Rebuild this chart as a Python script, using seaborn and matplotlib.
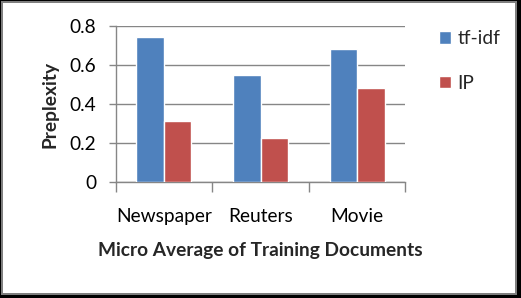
import matplotlib
matplotlib.use("Agg")
import matplotlib.pyplot as plt
import seaborn as sns
import pandas as pd
from matplotlib.patches import Rectangle

categories = ["Newspaper", "Reuters", "Movie"]
series_names = ["tf-idf", "IP"]
tfidf_values = [0.745, 0.55, 0.683]
ip_values = [0.313, 0.228, 0.483]
y_ticks = [0, 0.2, 0.4, 0.6, 0.8]
y_tick_labels = ["0", "0.2", "0.4", "0.6", "0.8"]

df = pd.DataFrame({
    "category": categories * 2,
    "series": [series_names[0]] * 3 + [series_names[1]] * 3,
    "value": tfidf_values + ip_values,
})

sns.set_theme(style="white")
plt.rcParams["font.family"] = ["Lato", "DejaVu Sans"]

W, H = 521, 298
FS = 13.8
fig = plt.figure(figsize=(W / 100, H / 100), dpi=100, facecolor="black")
fig.patches.append(Rectangle((1 / W, 3 / H), 516 / W, 294 / H, transform=fig.transFigure,
                             facecolor="#7f7f7f", edgecolor="none", zorder=-2))
fig.patches.append(Rectangle((3 / W, 5 / H), 512 / W, 290 / H, transform=fig.transFigure,
                             facecolor="white", edgecolor="none", zorder=-1))

left, right, top, bottom = 115.7, 405.3, 26.3, 182.0
ax = fig.add_axes([left / W, (H - bottom) / H, (right - left) / W, (bottom - top) / H])
ax.set_facecolor("none")

sns.barplot(data=df, x="category", y="value", hue="series", order=categories,
            hue_order=series_names, palette=["#4F81BD", "#C0504D"], width=0.57,
            saturation=1, ax=ax, zorder=3, legend=True)

ax.set_xlim(-0.5, 2.5)
ax.set_ylim(0, 0.8)
ax.set_yticks(y_ticks)
ax.set_yticklabels(y_tick_labels)
ax.yaxis.grid(True, color="#868686", linewidth=1)
ax.set_axisbelow(True)
for s in ["top", "right"]:
    ax.spines[s].set_visible(False)
for s in ["left", "bottom"]:
    ax.spines[s].set_color("#868686")
    ax.spines[s].set_linewidth(1)

ax.set_xticks([0, 1, 2])
ax.set_xticklabels(categories)
ax.set_xticks([-0.5, 0.5, 1.5, 2.5], minor=True)
ax.tick_params(axis="x", which="major", length=0, pad=19, labelsize=FS, colors="black")
ax.tick_params(axis="x", which="minor", length=7.5, width=1, color="#868686", direction="out", bottom=True)
ax.tick_params(axis="y", length=5, width=1, color="#868686", direction="out", left=True,
               pad=9, labelsize=FS, labelcolor="black")

ax.set_xlabel("Micro Average of Training Documents", fontsize=FS, fontweight="bold", labelpad=12)
ax.set_ylabel("Preplexity", fontsize=FS, fontweight="bold", labelpad=8)

handles, labels = ax.get_legend_handles_labels()
ax.legend(handles, labels, loc="upper left", bbox_to_anchor=(439 / W, 1 - 30 / H),
          bbox_transform=fig.transFigure, frameon=False, fontsize=FS,
          handlelength=0.65, handleheight=0.65, handletextpad=0.3, labelspacing=1.45,
          borderpad=0, borderaxespad=0)

fig.savefig("out.png", dpi=100, facecolor=fig.get_facecolor())
